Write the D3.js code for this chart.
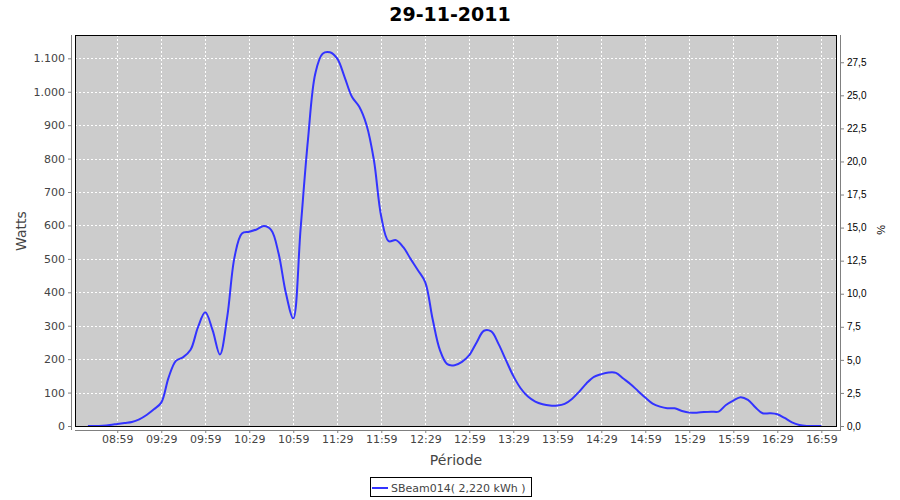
<!DOCTYPE html>
<html><head><meta charset="utf-8">
<script src="https://cdn.jsdelivr.net/npm/d3@7"></script>
<style>
html,body{margin:0;padding:0;background:#fff;}
svg{display:block;}
</style></head>
<body>
<svg id="chart" width="900" height="500"></svg>
<script>
const title = "29-11-2011";
const times = ["08:39","08:44","08:49","08:54","08:59","09:04","09:09","09:14","09:19","09:24",
"09:29","09:34","09:39","09:44","09:49","09:54","09:59","10:04","10:09","10:14",
"10:19","10:24","10:29","10:34","10:39","10:44","10:49","10:54","10:59","11:04",
"11:09","11:14","11:19","11:24","11:29","11:34","11:39","11:44","11:49","11:54",
"11:59","12:04","12:09","12:14","12:19","12:24","12:29","12:34","12:39","12:44",
"12:49","12:54","12:59","13:04","13:09","13:14","13:19","13:24","13:29","13:34",
"13:39","13:44","13:49","13:54","13:59","14:04","14:09","14:14","14:19","14:24",
"14:29","14:34","14:39","14:44","14:49","14:54","14:59","15:04","15:09","15:14",
"15:19","15:24","15:29","15:34","15:39","15:44","15:49","15:54","15:59","16:04",
"16:09","16:14","16:19","16:24","16:29","16:34","16:39","16:44","16:49","16:54","16:59"];
const watts = [0,0,1,3,6,9,12,20,33,50,
70,145,195,206,228,295,340,287,214,327,
506,576,581,588,598,586,516,397,322,590,
855,1054,1114,1118,1099,1044,985,955,900,795,
626,553,556,535,500,466,430,320,227,185,
182,192,212,250,285,283,245,197,150,113,
88,73,65,61,61,66,81,103,128,147,
155,160,159,142,125,105,85,67,58,53,
53,45,40,40,42,43,43,63,76,86,
78,56,38,38,35,24,11,3,0,0,0];
const xTickLabels = ["08:59","09:29","09:59","10:29","10:59","11:29","11:59","12:29","12:59","13:29","13:59","14:29","14:59","15:29","15:59","16:29","16:59"];
const leftTicks = [0,100,200,300,400,500,600,700,800,900,1000,1100];
const rightTicks = [0,2.5,5,7.5,10,12.5,15,17.5,20,22.5,25,27.5];
const seriesName = "SBeam014( 2,220 kWh )";
const xLabel = "Période", yLabel = "Watts", y2Label = "%";

const toMin = s => { const [h,m] = s.split(":").map(Number); return h*60+m; };
const data = times.map((t,i)=>({t:toMin(t), w:watts[i]}));

const P = {left:75, right:837, top:35, bottom:426};
const svg = d3.select("#chart");
const x = d3.scaleLinear().domain([510.2, 1029.7]).range([P.left, P.right]);
const y = d3.scaleLinear().domain([0, 1169.8]).range([P.bottom, P.top]);
const y2 = d3.scaleLinear().domain([0, 29.56]).range([P.bottom, P.top]);
const xTicks = xTickLabels.map(toMin);
const fmtL = v => d3.format(",")(v).replace(/,/g,".");
const fmtR = v => v.toFixed(1).replace(".",",");
const font = "'DejaVu Sans', Verdana, sans-serif";

svg.append("text").attr("x",450).attr("y",21).attr("text-anchor","middle")
  .attr("font-family",font).attr("font-weight","bold").attr("font-size",19).attr("fill","#000").text(title);

svg.append("rect").attr("x",P.left).attr("y",P.top).attr("width",P.right-P.left).attr("height",P.bottom-P.top)
  .attr("fill","#cccccc");

const grid = svg.append("g").attr("stroke","#fff").attr("stroke-width",1).attr("stroke-dasharray","2,2").attr("shape-rendering","crispEdges");
grid.selectAll(".gx").data(xTicks).join("line")
  .attr("x1",d=>Math.round(x(d))+0.5).attr("x2",d=>Math.round(x(d))+0.5).attr("y1",P.top).attr("y2",P.bottom);
grid.selectAll(".gy").data(leftTicks.slice(1)).join("line")
  .attr("y1",d=>Math.round(y(d))+0.5).attr("y2",d=>Math.round(y(d))+0.5).attr("x1",P.left).attr("x2",P.right);

const line = d3.line().x(d=>x(d.t)).y(d=>y(d.w)).curve(d3.curveCatmullRom.alpha(0.5));
svg.append("path").datum(data).attr("d",line).attr("fill","none").attr("stroke","#3333ff").attr("stroke-width",2);

svg.append("rect").attr("x",P.left+0.5).attr("y",P.top+0.5).attr("width",P.right-P.left-1).attr("height",P.bottom-P.top)
  .attr("fill","none").attr("stroke","#000").attr("stroke-width",1).attr("shape-rendering","crispEdges");

// Left axis
const gL = svg.append("g").attr("transform",`translate(71,0)`);
gL.call(d3.axisLeft(y).tickValues(leftTicks).tickFormat(fmtL).tickSize(3).tickPadding(3).tickSizeOuter(0));
gL.select(".domain").attr("stroke","#808080").attr("d",`M0.5,${P.top}V${P.bottom+4}`);
gL.selectAll(".tick line").attr("stroke","#808080");
gL.selectAll(".tick text").attr("font-family",font).attr("font-size",11).attr("fill","#444");

// Bottom axis
const gB = svg.append("g").attr("transform",`translate(0,430)`);
gB.call(d3.axisBottom(x).tickValues(xTicks).tickFormat((d,i)=>xTickLabels[i]).tickSize(3).tickPadding(2).tickSizeOuter(0));
gB.select(".domain").attr("stroke","#808080").attr("d",`M${P.left},0.5H${P.right+4}`);
gB.selectAll(".tick line").attr("stroke","#808080");
gB.selectAll(".tick text").attr("font-family",font).attr("font-size",11).attr("fill","#444");

// Right axis
const gR = svg.append("g").attr("transform",`translate(841,0)`);
gR.call(d3.axisRight(y2).tickValues(rightTicks).tickFormat(fmtR).tickSize(3).tickPadding(3).tickSizeOuter(0));
gR.select(".domain").attr("stroke","#808080").attr("d",`M-0.5,${P.top}V${P.bottom+4}`);
gR.selectAll(".tick line").attr("stroke","#808080");
gR.selectAll(".tick text").attr("font-family","'Liberation Sans', Arial, sans-serif").attr("font-size",10).attr("fill","#000");

// Axis labels
svg.append("text").attr("x",456).attr("y",465).attr("text-anchor","middle")
  .attr("font-family",font).attr("font-size",14).attr("fill","#444").text(xLabel);
svg.append("text").attr("transform","translate(26,231) rotate(-90)").attr("text-anchor","middle")
  .attr("font-family",font).attr("font-size",14).attr("fill","#444").text(yLabel);
svg.append("text").attr("transform","translate(877,230) rotate(90)").attr("text-anchor","middle")
  .attr("font-family","'Liberation Sans', Arial, sans-serif").attr("font-size",11).attr("fill","#000").text(y2Label);

// Legend
const lg = svg.append("g");
lg.append("rect").attr("x",370.5).attr("y",477.5).attr("width",161).attr("height",19)
  .attr("fill","#fff").attr("stroke","#000").attr("stroke-width",1).attr("shape-rendering","crispEdges");
lg.append("line").attr("x1",372).attr("x2",388).attr("y1",488).attr("y2",488).attr("stroke","#3333ff").attr("stroke-width",2);
lg.append("text").attr("x",391).attr("y",492).attr("font-family",font).attr("font-size",11).attr("fill","#444").text(seriesName);
</script>
</body></html>
